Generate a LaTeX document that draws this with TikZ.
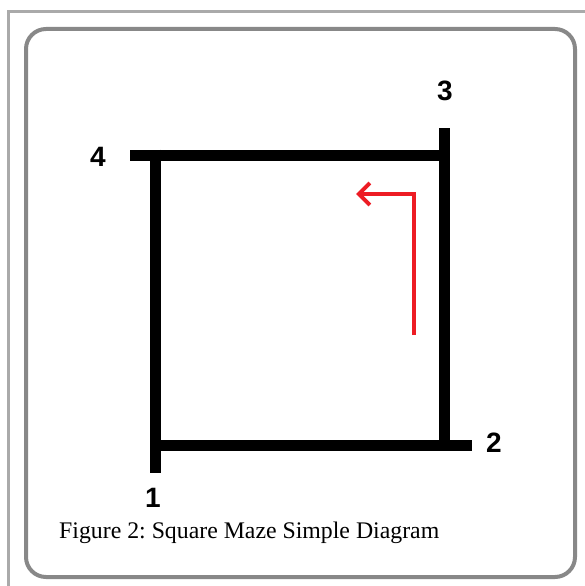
\documentclass[tikz,border=0pt]{standalone}
\usepackage{fontspec}
\setmainfont{Liberation Serif}
\newfontfamily\labelfont{Liberation Sans}
\usetikzlibrary{arrows.meta}
\definecolor{framegray}{RGB}{170,170,170}
\definecolor{boxgray}{RGB}{136,136,136}
\definecolor{paintred}{RGB}{237,28,36}
\frenchspacing

\begin{document}
\begin{tikzpicture}[
  x=1pt, y=-1pt,
  wall/.style={line width=11pt, draw=black},
  corner/.style={font=\labelfont\bfseries\fontsize{28}{28}\selectfont, inner sep=0pt},
  route/.style={line width=4pt, draw=paintred, -{Straight Barb[length=11pt, width=22pt, line width=4pt]}}
]
  \useasboundingbox (0,0) rectangle (584,586);
  % frames
  \draw[framegray, line width=3.5pt] (8.5,620) -- (8.5,11.5) -- (620,11.5);
  \draw[boxgray, line width=4pt, rounded corners=20pt] (26,29) rectangle (575,577);
  % maze corners
  \coordinate (p1) at (155.5,445);
  \coordinate (p2) at (444,445);
  \coordinate (p3) at (444,155);
  \coordinate (p4) at (155.5,155);
  % walls
  \draw[wall] (130,155) -- (450,155);
  \draw[wall] (444,128) -- (444,450.5);
  \draw[wall] (150,445) -- (472,445);
  \draw[wall] (155.5,149.5) -- (155.5,473);
  % labels
  \node[corner] (n1) at (153,498) {1};
  \node[corner] (n2) at (494,443) {2};
  \node[corner] (n3) at (445,91) {3};
  \node[corner] (n4) at (98,157) {4};
  % path
  \coordinate (start) at (414,335);
  \coordinate (bend) at (414,194);
  \coordinate (goal) at (356,194);
  \draw[route] (start) -- (bend) -- (goal);
  % caption
  \node[anchor=west, font=\fontsize{23.8}{24}\selectfont, inner sep=0pt] (cap) at (59,533)
    {Figure 2: Square Maze Simple Diagram};
\end{tikzpicture}
\end{document}
